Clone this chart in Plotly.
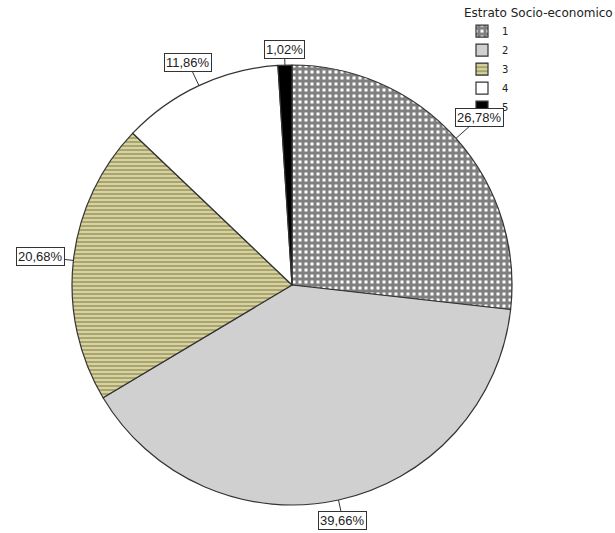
import math
import plotly.graph_objects as go

# ---- data ----
categories = ["1", "2", "3", "4", "5"]
percentages = [26.78, 39.66, 20.68, 11.86, 1.02]
label_texts = ["26,78%", "39,66%", "20,68%", "11,86%", "1,02%"]
legend_title = "Estrato Socio-economico"

# ---- styling ----
W, H = 615, 533
dom_x = [70 / W, 514 / W]
dom_y = [1 - 505 / H, 1 - 65 / H]
fill_bg = ["#ffffff", "#d0d0d0", "#d8d39a", "#ffffff", "#000000"]
fill_fg = ["#000000", "#d0d0d0", "#5f5d3e", "#ffffff", "#000000"]
shapes = ["+", "", "-", "", ""]

fig = go.Figure(go.Pie(
    labels=categories,
    values=percentages,
    sort=False,
    direction="clockwise",
    rotation=0,
    textinfo="none",
    hoverinfo="label+percent",
    domain=dict(x=dom_x, y=dom_y),
    marker=dict(
        colors=fill_bg,
        line=dict(color="#333333", width=1.2),
        pattern=dict(shape=shapes, fgcolor=fill_fg, bgcolor=fill_bg,
                     size=[6, 8, 4, 8, 8], solidity=[0.75, 0.3, 0.4, 0.3, 0.3],
                     fillmode="overlay"),
    ),
))

# label boxes placed from slice mid-angles
cx_px = (dom_x[0] + dom_x[1]) / 2 * W
cy_px = (1 - (dom_y[0] + dom_y[1]) / 2) * H
r_px = min((dom_x[1] - dom_x[0]) * W, (dom_y[1] - dom_y[0]) * H) / 2
total = sum(percentages)
cum = 0.0
annotations = []
box_w, box_h, gap = 54, 20, 5
for v, txt in zip(percentages, label_texts):
    mid = (cum + v / 2) / total * 2 * math.pi
    cum += v
    s, c = math.sin(mid), math.cos(mid)
    ex, ey = cx_px + r_px * s, cy_px - r_px * c
    d = r_px + gap + abs(s) * box_w / 2 + abs(c) * box_h / 2
    bx, by = cx_px + d * s, cy_px - d * c
    annotations.append(dict(
        x=ex / W, y=1 - ey / H, xref="paper", yref="paper",
        ax=bx - ex, ay=by - ey, axref="pixel", ayref="pixel",
        text=txt, showarrow=True, arrowhead=0, arrowwidth=1, arrowcolor="#333333",
        font=dict(family="Liberation Sans, Arial, sans-serif", size=13, color="#222222"),
        bgcolor="#ffffff", bordercolor="#333333", borderwidth=1, borderpad=1,
    ))

fig.update_layout(
    width=W, height=H,
    margin=dict(l=0, r=0, t=0, b=0),
    paper_bgcolor="#ffffff",
    plot_bgcolor="#ffffff",
    annotations=annotations,
    showlegend=True,
    legend=dict(
        title=dict(text=legend_title, side="top",
                   font=dict(family="DejaVu Sans, sans-serif", size=12, color="#222222")),
        font=dict(family="DejaVu Sans, sans-serif", size=10, color="#222222"),
        x=1.0, xanchor="right", y=0.998, yanchor="top",
        bgcolor="rgba(0,0,0,0)", tracegroupgap=0, itemwidth=30,
    ),
)

fig.write_html("out.html")
